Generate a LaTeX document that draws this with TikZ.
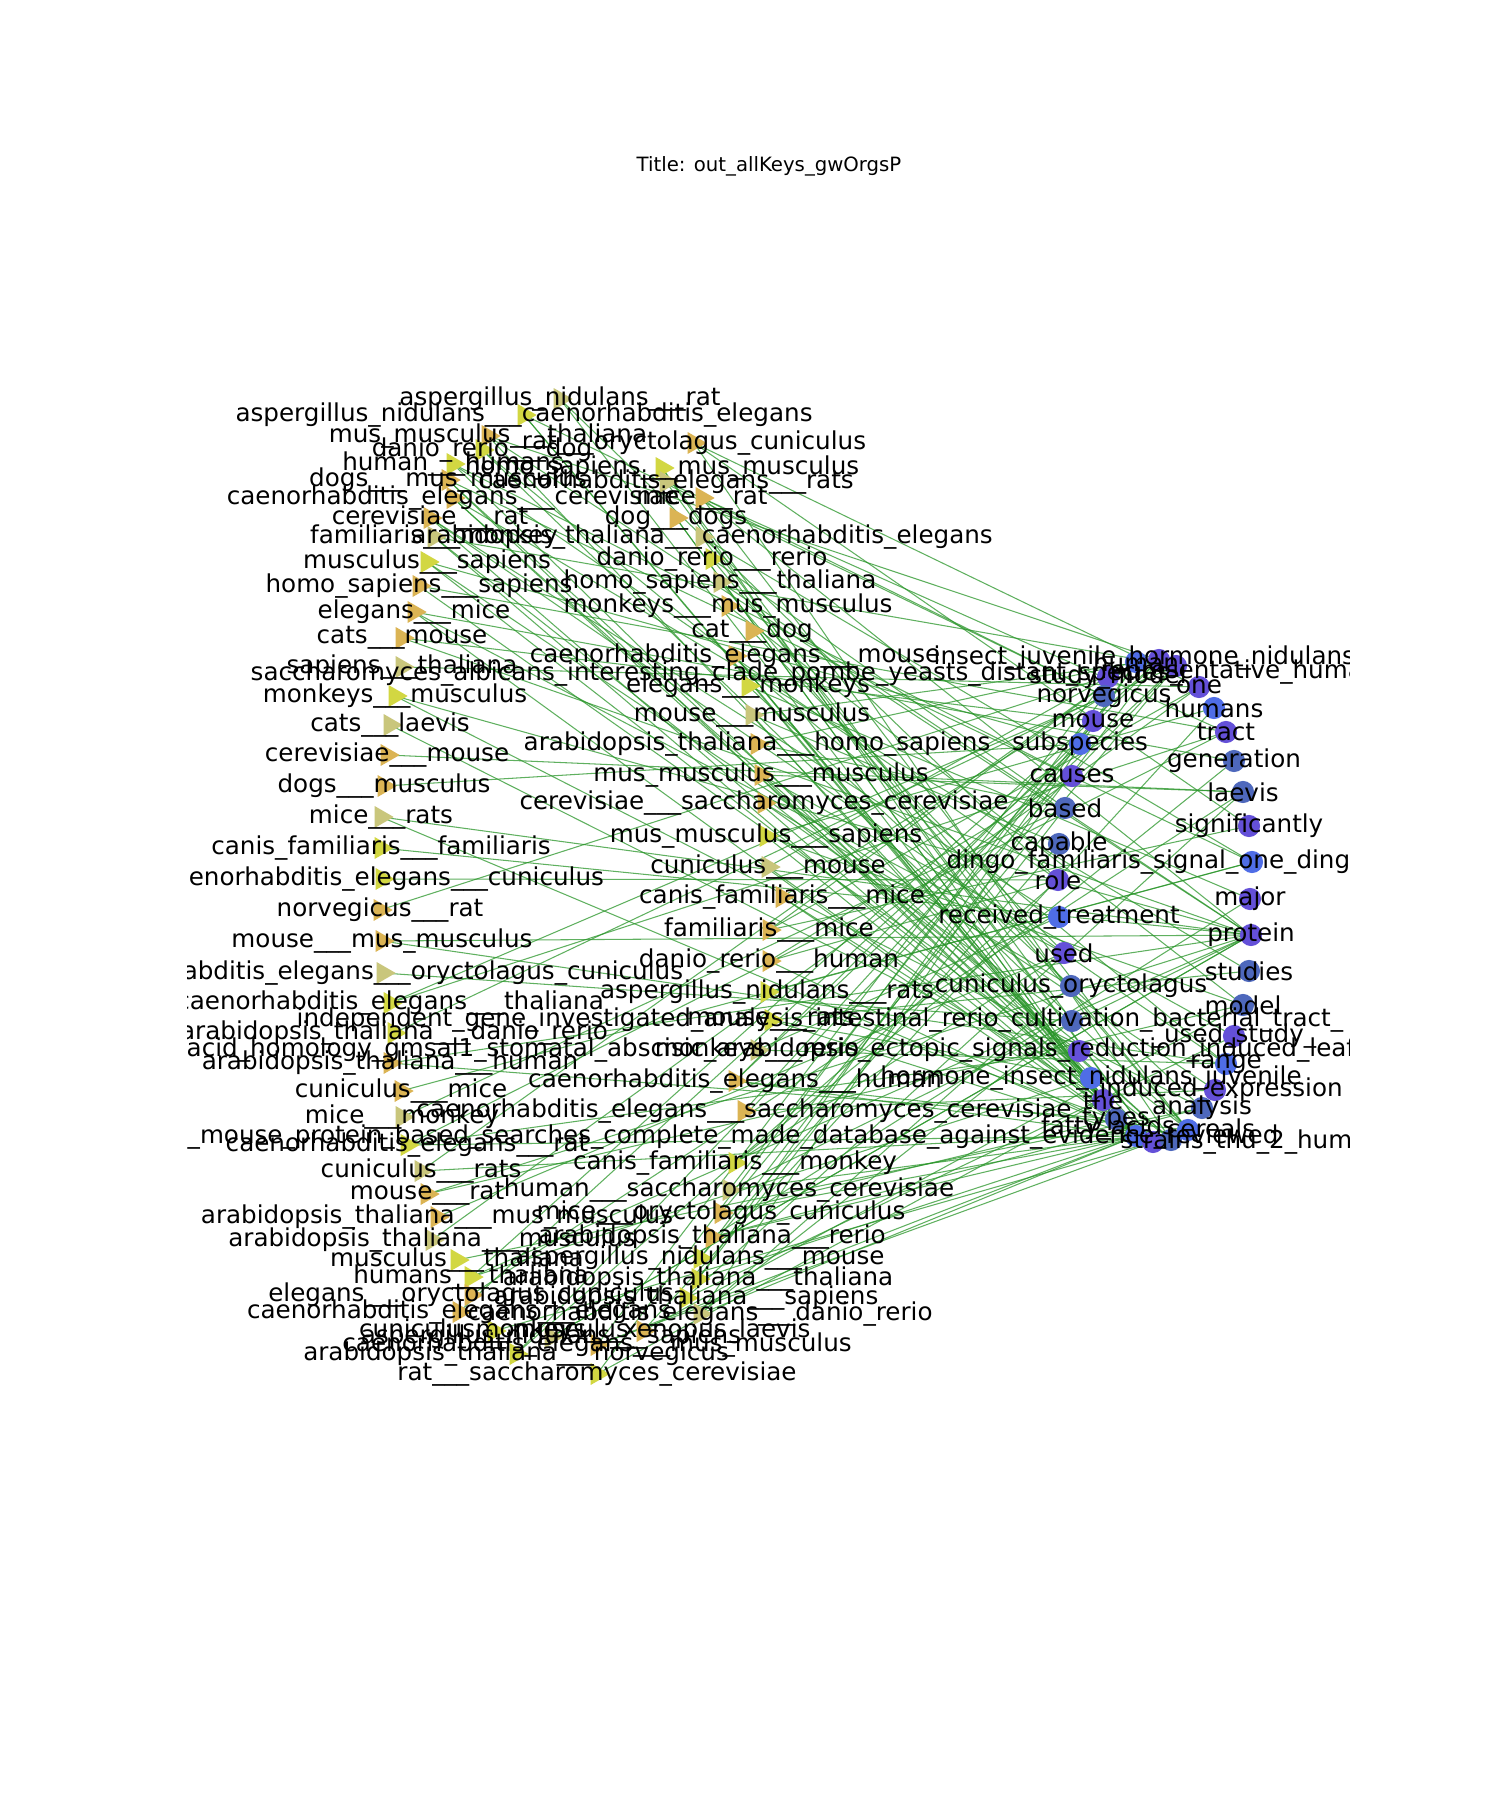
\documentclass[tikz,border=0pt]{standalone}
\usepackage{fontspec}
\setmainfont{DejaVu Sans}
\usetikzlibrary{shapes.geometric}

\definecolor{tY}{HTML}{D2D742}
\definecolor{tG}{HTML}{DBB454}
\definecolor{tK}{HTML}{C9C67C}
\definecolor{cB}{HTML}{4F6DE6}
\definecolor{cP}{HTML}{6450D8}
\definecolor{cS}{HTML}{4E68BC}
\definecolor{edgegreen}{HTML}{2A962A}

\tikzset{
  trimark/.style={regular polygon, regular polygon sides=3, shape border rotate=-90,
    minimum size=7.2pt, inner sep=0pt, draw=none},
  dotmark/.style={circle, minimum size=6.3pt, inner sep=0pt, draw=none},
  lbl/.style={inner sep=0pt, font=\fontsize{7}{8}\selectfont},
  lblw/.style={lbl, anchor=west},
  edge/.style={draw=edgegreen, line width=0.3pt, opacity=0.75}
}

\begin{document}
\catcode`\_=12
\begin{tikzpicture}[x=0.01cm,y=-0.01cm]
    \useasboundingbox (0,0) rectangle (1500,1800);
    \fill[white] (0,0) rectangle (1500,1800);
    % Title
    \node[inner sep=0pt, font=\fontsize{5.6}{7}\selectfont] (title) at (769,166) {Title: out_allKeys_gwOrgsP};

    % Left side: organism pairs
    \foreach \i/\x/\y/\c/\lab in {
      1/560/399/tK/aspergillus_nidulans___rat,
      2/524/415/tY/aspergillus_nidulans___caenorhabditis_elegans,
      3/488/436/tG/mus_musculus___thaliana,
      4/694/443/tG/rat___oryctolagus_cuniculus,
      5/482/450/tY/danio_rerio___dog,
      6/453/464/tY/human___humans,
      7/662/468/tY/homo_sapiens___mus_musculus,
      8/448/480/tG/dogs___mus_musculus,
      9/666/482/tK/caenorhabditis_elegans___rats,
      10/453/498/tG/caenorhabditis_elegans___cerevisiae,
      11/702/498/tG/mice___rat,
      12/430/518/tG/cerevisiae___rat,
      13/676/518/tG/dog___dogs,
      14/434/537/tK/familiaris___monkey,
      15/702/537/tK/arabidopsis_thaliana___caenorhabditis_elegans,
      16/427/562/tY/musculus___sapiens,
      17/712/559/tY/danio_rerio___rerio,
      18/419/586/tG/homo_sapiens___sapiens,
      19/720/582/tK/homo_sapiens___thaliana,
      20/414/612/tG/elegans___mice,
      21/728/606/tG/monkeys___mus_musculus,
      22/402/638/tG/cats___mouse,
      23/752/631/tG/cat___dog,
      24/735/656/tG/caenorhabditis_elegans___mouse,
      25/402/667/tK/sapiens___thaliana,
      26/748/686/tY/elegans___monkeys,
      27/395/696/tY/monkeys___musculus,
      28/752/715/tK/mouse___musculus,
      29/390/725/tK/cats___laevis,
      30/757/744/tG/arabidopsis_thaliana___homo_sapiens,
      31/387/755/tG/cerevisiae___mouse,
      32/761/775/tG/mus_musculus___musculus,
      33/384/786/tG/dogs___musculus,
      34/764/803/tG/cerevisiae___saccharomyces_cerevisiae,
      35/381/817/tK/mice___rats,
      36/766/836/tY/mus_musculus___sapiens,
      37/381/848/tY/canis_familiaris___familiaris,
      38/768/867/tK/cuniculus___mouse,
      39/382/879/tY/caenorhabditis_elegans___cuniculus,
      40/782/897/tG/canis_familiaris___mice,
      41/380/910/tG/norvegicus___rat,
      42/769/930/tG/familiaris___mice,
      43/382/941/tG/mouse___mus_musculus,
      44/769/961/tG/danio_rerio___human,
      45/383/973/tK/caenorhabditis_elegans___oryctolagus_cuniculus,
      46/767/992/tY/aspergillus_nidulans___rats,
      47/390/1003/tY/caenorhabditis_elegans___thaliana,
      48/771/1020/tY/mouse___rats,
      49/394/1033/tY/arabidopsis_thaliana___danio_rerio,
      50/757/1050/tK/monkeys___rerio,
      51/390/1063/tG/arabidopsis_thaliana___human,
      52/735/1081/tG/caenorhabditis_elegans___human,
      53/401/1091/tG/cuniculus___mice,
      54/744/1111/tG/caenorhabditis_elegans___saccharomyces_cerevisiae,
      55/402/1117/tK/mice___monkey,
      56/407/1145/tY/caenorhabditis_elegans___rat,
      57/421/1171/tK/cuniculus___rats,
      58/735/1163/tY/canis_familiaris___monkey,
      59/427/1194/tG/mouse___rat,
      60/729/1190/tK/human___saccharomyces_cerevisiae,
      61/437/1217/tG/arabidopsis_thaliana___mus_musculus,
      62/721/1213/tG/mice___oryctolagus_cuniculus,
      63/432/1240/tK/arabidopsis_thaliana___musculus,
      64/712/1237/tG/arabidopsis_thaliana___rerio,
      65/457/1260/tY/musculus___thaliana,
      66/700/1258/tY/aspergillus_nidulans___mouse,
      67/471/1277/tY/humans___thaliana,
      68/698/1279/tY/arabidopsis_thaliana___thaliana,
      69/471/1295/tG/elegans___oryctolagus_cuniculus,
      70/686/1298/tY/arabidopsis_thaliana___sapiens,
      71/459/1312/tG/caenorhabditis_elegans___elegans,
      72/700/1314/tK/caenorhabditis_elegans___danio_rerio,
      73/494/1331/tY/cuniculus___musculus,
      74/643/1331/tG/monkeys___xenopus_laevis,
      75/551/1337/tK/aspergillus_nidulans___sapiens,
      76/597/1345/tG/caenorhabditis_elegans___mus_musculus,
      77/516/1354/tY/arabidopsis_thaliana___norvegicus,
      78/597/1374/tY/rat___saccharomyces_cerevisiae}
      {\coordinate (l\i) at (\x,\y);
       \expandafter\xdef\csname lcol\i\endcsname{\c}
       \expandafter\xdef\csname llab\i\endcsname{\lab}}

    % Right side: keywords
    \foreach \i/\x/\y/\c/\lab in {
      1/1108/677/cP/study_model, 2/1104/696/cS/norvegicus,
      3/1093/721/cP/mouse, 4/1080/744/cB/subspecies,
      5/1072/776/cP/causes, 6/1065/808/cS/based,
      7/1059/844/cS/capable, 8/1058/880/cP/role,
      9/1059/917/cB/received_treatment, 10/1064/953/cP/used,
      11/1071/986/cS/cuniculus_oryctolagus, 12/1072/1021/cS/{},
      13/1079/1051/cP/{}, 14/1091/1078/cB/hormone_insect_nidulans_juvenile,
      15/1103/1100/cP/the, 16/1116/1119/cS/types,
      17/1136/1136/cB/{}, 18/1153/1142/cP/{},
      19/1171/1140/cS/{}, 20/1188/1130/cB/{},
      21/1136/662/cB/human, 22/1159/660/cP/{}, 23/1176/666/cP/{},
      24/1199/687/cP/one, 25/1214/708/cB/humans,
      26/1226/732/cP/tract, 27/1234/761/cS/generation,
      28/1243/792/cS/laevis, 29/1249/826/cP/significantly,
      30/1252/862/cB/{}, 31/1250/899/cP/major,
      32/1251/935/cP/protein, 33/1249/971/cS/studies,
      34/1243/1005/cS/model, 35/1234/1036/cP/_used_study_,
      36/1226/1064/cB/range, 37/1215/1090/cP/_induced_expression,
      38/1202/1108/cS/analysis}
      {\coordinate (r\i) at (\x,\y);
       \expandafter\xdef\csname rcol\i\endcsname{\c}
       \expandafter\xdef\csname rlab\i\endcsname{\lab}}

    % Draw the edges
    \foreach \i in {1,...,78} {
      \pgfmathtruncatemacro\ra{mod(\i*7,38)+1}
      \draw[edge] (l\i) -- (r\ra);
    }
    \foreach \i in {2,4,...,78} {
      \pgfmathtruncatemacro\rb{mod(\i*11+17,38)+1}
      \draw[edge] (l\i) -- (r\rb);
    }
    \foreach \i in {1,...,17} {
      \pgfmathtruncatemacro\rc{15+mod(\i,6)}
      \draw[edge] (l\i) -- (r\rc);
    }
    \foreach \i in {20,24,...,78} {
      \pgfmathtruncatemacro\rc{17+mod(\i,4)}
      \draw[edge] (l\i) -- (r\rc);
    }
    \foreach \i in {42,47,...,78} {
      \pgfmathtruncatemacro\rc{21+mod(\i,3)}
      \draw[edge] (l\i) -- (r\rc);
    }
    \foreach \i in {3,11,...,78} \draw[edge] (l\i) -- (r32);

    % Draw the markers
    \foreach \i in {1,...,78}
      \node[trimark, fill=\csname lcol\i\endcsname] (lm\i) at (l\i) {};
    \foreach \i in {1,...,38}
      \node[dotmark, fill=\csname rcol\i\endcsname] (rm\i) at (r\i) {};

    % Labels, cut at the plot frame
    \begin{scope}
      \clip (187,0) rectangle (1349,1800);
      \foreach \i in {1,...,78}
        \node[lbl] (lt\i) at (l\i) {\csname llab\i\endcsname};
      \foreach \i in {1,...,38}
        \node[lbl] (rt\i) at (r\i) {\csname rlab\i\endcsname};
      % long keyword labels
      \node[lblw] (kw1) at (250,674) {saccharomyces_albicans_interesting_clade_pombe_yeasts_distant_species_};
      \node[lblw] (kw2) at (933,658) {insect_juvenile_hormone_nidulans};
      \node[lblw] (kw3) at (1100,672) {representative_human_};
      \node[lblw] (kw4) at (946,862) {dingo_familiaris_signal_one_dingo};
      \node[lblw] (kw5) at (296,1020) {independent_gene_investigated_analysis_intestinal_rerio_cultivation_bacterial_tract_};
      \node[lblw] (kw6) at (186,1050) {acid_homology_gmsal1_stomatal_abscisic_arabidopsis_ectopic_signals_reduction_induced_leaf};
      \node[lblw] (kw7) at (187,1137) {_mouse_protein_based_searches_complete_made_database_against_evidence_reviewed};
      \node[lbl] (kw8) at (1108,1128) {fatty_acids};
      \node[lbl] (kw9) at (1211,1128) {cereals};
      \node[lblw] (kw10) at (1120,1142) {strains_thu_2_human_cuniculus};
    \end{scope}
\end{tikzpicture}
\end{document}
